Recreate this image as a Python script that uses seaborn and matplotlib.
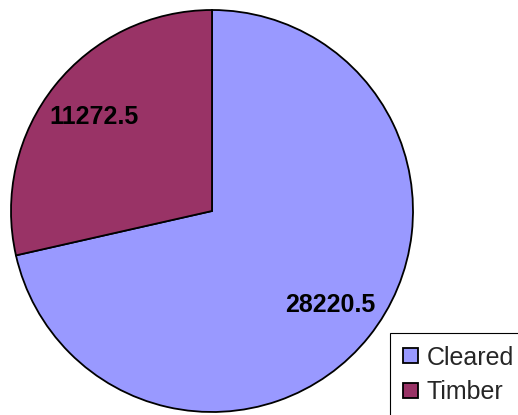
import matplotlib
matplotlib.use("Agg")
import matplotlib.pyplot as plt
import seaborn as sns

categories = ["Cleared", "Timber"]
values = [28220.5, 11272.5]
colors = ["#9999FF", "#993366"]

sns.set_theme(style="white")
plt.rcParams["font.family"] = ["Liberation Sans", "DejaVu Sans"]

fig = plt.figure(figsize=(5.18, 4.15), dpi=100)
ax = fig.add_axes([11 / 518, 3 / 415, 402 / 518, 402 / 415])

wedges, texts, autotexts = ax.pie(
    values,
    colors=colors,
    startangle=90,
    counterclock=False,
    radius=1.0,
    autopct=lambda p: f"{p * sum(values) / 100:.1f}",
    pctdistance=0.75,
    wedgeprops=dict(edgecolor="black", linewidth=1.3),
    textprops=dict(fontsize=18, fontweight="bold", color="black"),
)
ax.set_xlim(-1.0, 1.0)
ax.set_ylim(-1.0, 1.0)
ax.set_aspect("equal")
ax.axis("off")

leg = fig.legend(
    wedges,
    categories,
    loc="upper left",
    bbox_to_anchor=(390 / 518, 1 - 333 / 415),
    fontsize=18,
    frameon=True,
    fancybox=False,
    edgecolor="black",
    framealpha=1,
    handlelength=0.62,
    handleheight=0.56,
    handletextpad=0.35,
    labelspacing=0.42,
    borderpad=0.5,
    borderaxespad=0,
)
leg.get_frame().set_linewidth(0.8)
for h in leg.legend_handles:
    h.set_linewidth(1.3)

fig.savefig("out.png", dpi=100)
